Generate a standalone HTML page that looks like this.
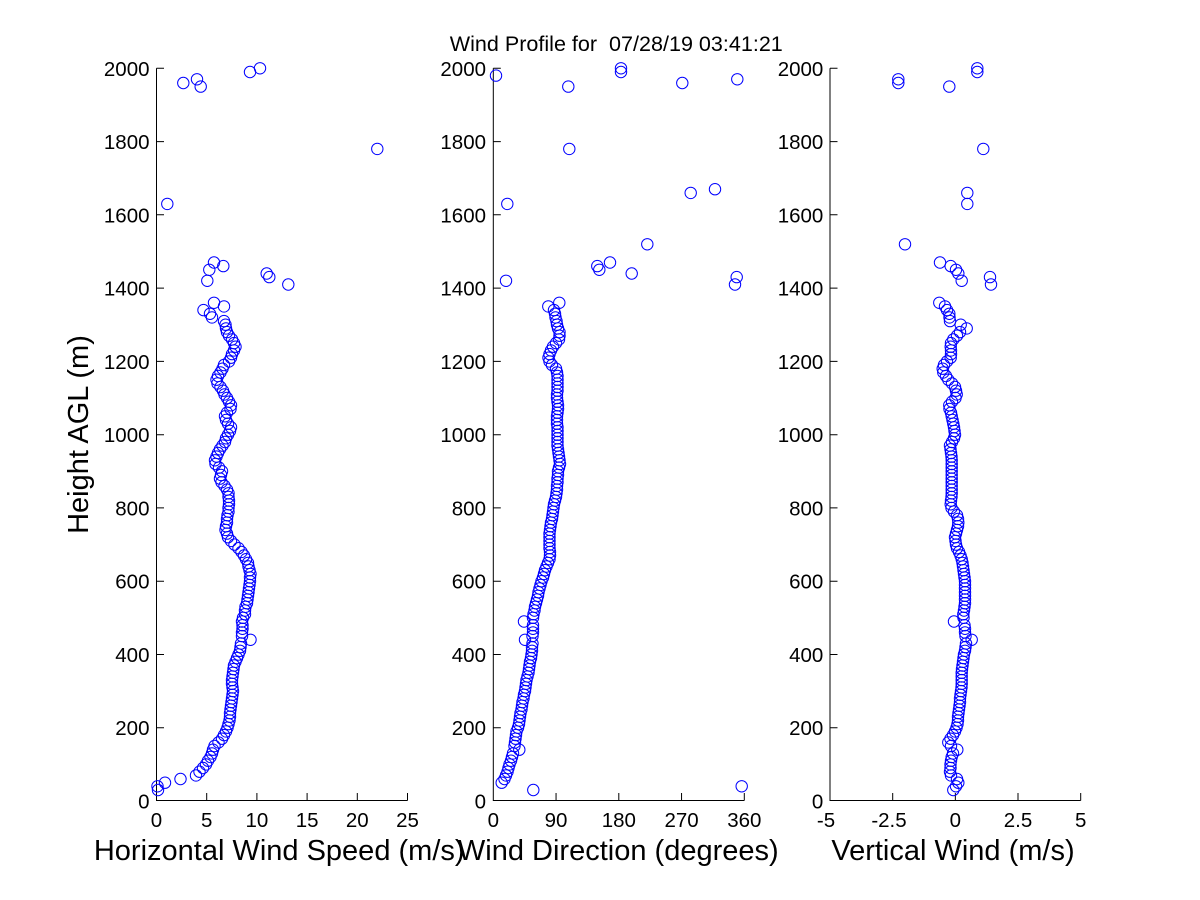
<!DOCTYPE html>
<html><head><meta charset="utf-8"><style>
html,body{margin:0;padding:0;background:#fff;}
svg{display:block;}
text{font-family:"Liberation Sans",Arial,sans-serif;fill:#000;}
.t{font-size:20.5px;}
.l{font-size:29px;}
</style></head><body>
<svg width="1200" height="900" viewBox="0 0 1200 900" xmlns="http://www.w3.org/2000/svg">
<defs>
<marker id="m" markerWidth="14" markerHeight="14" refX="7" refY="7" markerUnits="userSpaceOnUse" overflow="visible"><circle cx="7" cy="7" r="5.7" fill="none" stroke="#0000ff" stroke-width="1"/></marker>
</defs>
<rect width="1200" height="900" fill="#fff"/>
<text x="616.3" y="51" font-size="21" text-anchor="middle" textLength="333" lengthAdjust="spacingAndGlyphs" xml:space="preserve">Wind Profile for  07/28/19 03:41:21</text>

<!-- Panel 1 axes -->
<g stroke="#000" stroke-width="1" fill="none">
<path d="M156.5,68.3V800.5H407.5"/>
<path d="M206.7,800.5v-7.5M256.9,800.5v-7.5M307.1,800.5v-7.5M357.3,800.5v-7.5M407.5,800.5v-7.5"/>
<path d="M156.5,727.7h7.5M156.5,654.5h7.5M156.5,581.2h7.5M156.5,507.9h7.5M156.5,434.7h7.5M156.5,361.4h7.5M156.5,288.1h7.5M156.5,214.8h7.5M156.5,141.6h7.5M156.5,68.3h7.5"/>
<path d="M493.3,68.3V800.5H744.3"/>
<path d="M556.05,800.5v-7.5M618.8,800.5v-7.5M681.55,800.5v-7.5M744.3,800.5v-7.5"/>
<path d="M493.3,727.7h7.5M493.3,654.5h7.5M493.3,581.2h7.5M493.3,507.9h7.5M493.3,434.7h7.5M493.3,361.4h7.5M493.3,288.1h7.5M493.3,214.8h7.5M493.3,141.6h7.5M493.3,68.3h7.5"/>
<path d="M830,68.3V800.5H1080.7"/>
<path d="M892.7,800.5v-7.5M955.35,800.5v-7.5M1018,800.5v-7.5M1080.7,800.5v-7.5"/>
<path d="M830,727.7h7.5M830,654.5h7.5M830,581.2h7.5M830,507.9h7.5M830,434.7h7.5M830,361.4h7.5M830,288.1h7.5M830,214.8h7.5M830,141.6h7.5M830,68.3h7.5"/>
</g>

<!-- Y tick labels -->
<g class="t" text-anchor="end">
<text x="149.5" y="808.5">0</text><text x="149.5" y="735.2">200</text><text x="149.5" y="662">400</text><text x="149.5" y="588.7">600</text><text x="149.5" y="515.4">800</text><text x="149.5" y="442.2">1000</text><text x="149.5" y="368.9">1200</text><text x="149.5" y="295.6">1400</text><text x="149.5" y="222.3">1600</text><text x="149.5" y="149.1">1800</text><text x="149.5" y="75.8">2000</text>
<text x="486" y="808.5">0</text><text x="486" y="735.2">200</text><text x="486" y="662">400</text><text x="486" y="588.7">600</text><text x="486" y="515.4">800</text><text x="486" y="442.2">1000</text><text x="486" y="368.9">1200</text><text x="486" y="295.6">1400</text><text x="486" y="222.3">1600</text><text x="486" y="149.1">1800</text><text x="486" y="75.8">2000</text>
<text x="823.3" y="808.5">0</text><text x="823.3" y="735.2">200</text><text x="823.3" y="662">400</text><text x="823.3" y="588.7">600</text><text x="823.3" y="515.4">800</text><text x="823.3" y="442.2">1000</text><text x="823.3" y="368.9">1200</text><text x="823.3" y="295.6">1400</text><text x="823.3" y="222.3">1600</text><text x="823.3" y="149.1">1800</text><text x="823.3" y="75.8">2000</text>
</g>

<!-- X tick labels -->
<g class="t" text-anchor="middle">
<text x="156.5" y="827">0</text><text x="206.7" y="827">5</text><text x="256.9" y="827">10</text><text x="307.1" y="827">15</text><text x="357.3" y="827">20</text><text x="407.5" y="827">25</text>
<text x="493.3" y="827">0</text><text x="556.05" y="827">90</text><text x="618.8" y="827">180</text><text x="681.55" y="827">270</text><text x="744.3" y="827">360</text>
<text x="826" y="827">-5</text><text x="889" y="827">-2.5</text><text x="955.35" y="827">0</text><text x="1018" y="827">2.5</text><text x="1080.7" y="827">5</text>
</g>

<!-- Axis labels -->
<g class="l" text-anchor="middle">
<text x="279.2" y="860">Horizontal Wind Speed (m/s)</text>
<text x="618.3" y="860">Wind Direction (degrees)</text>
<text x="953" y="860">Vertical Wind (m/s)</text>
<text transform="translate(88,434.5) rotate(-90)" x="0" y="0">Height AGL (m)</text>
</g>

<!-- Panel 1 data -->
<g fill="none" stroke="none" marker-start="url(#m)" marker-mid="url(#m)" marker-end="url(#m)">
<polyline points="158,790.0 157.5,786.3 165,782.7 180.5,779.0 196,775.4 199.5,771.7 203,768.0 206,764.4 208,760.7 210.5,757.0 212,753.4 213,749.7 214.5,746.0 218.5,742.4 222,738.7 224,735.1 226,731.4 227.5,727.7 228.5,724.1 229.5,720.4 230,716.7 230,713.1 230.5,709.4 231,705.7 231.5,702.1 232,698.4 232.5,694.8 233,691.1 232.5,687.4 232,683.8 232,680.1 232.5,676.4 233,672.8 233.5,669.1 234,665.5 235.5,661.8 237,658.1 238.5,654.5 240,650.8 240.5,647.1 241,643.5 250.5,639.8 242,636.1 242,632.5 242.5,628.8 242.5,625.2 242,621.5 243,617.8 245,614.2 245,610.5 245.5,606.8 247,603.2 247.5,599.5 248,595.8 248.5,592.2 249,588.5 249.5,584.9 250,581.2 250,577.5 250.5,573.9 249.5,570.2 248.5,566.5 248,562.9 246,559.2 244,555.5 241.5,551.9 238.5,548.2 234.5,544.6 231,540.9 228,537.2 227,533.6 225.5,529.9 226,526.2 227,522.6 227,518.9 227.5,515.2 228.5,511.6 228.5,507.9 229,504.3 229,500.6 228.5,496.9 228.5,493.3 227,489.6 224.5,485.9 221.5,482.3 220,478.6 221,474.9 222,471.3 219,467.6 215.5,464.0 215,460.3 216.5,456.6 218,453.0 220,449.3 222.5,445.6 225,442.0 226,438.3 228,434.7 230,431.0 231,427.3 228,423.7 226,420.0 225,416.3 227,412.7 230.5,409.0 231,405.3 229,401.7 227,398.0 224.5,394.4 223,390.7 220.5,387.0 217.5,383.4 216.5,379.7 218,376.0 220.5,372.4 222.5,368.7 224,365.0 229,361.4 231,357.7 232,354.1 234,350.4 235.5,346.7 234,343.1 232,339.4 229,335.7 227,332.1 226,328.4 225.5,324.7 224,321.1 212,317.4 210,313.8 203.5,310.1 224,306.4 214,302.8"/>
<polyline points="260,68.3 250,72.0 197,79.3 183.3,83.0 200.7,86.6 377.3,148.9 167.3,203.9 214,262.5 223.3,266.1 209.3,269.8 266.7,273.5 269.3,277.1 207.3,280.8 288.3,284.5"/>

<!-- Panel 2 data -->
<polyline points="533.3,790.0 741.7,786.3 501.7,782.7 504.5,779.0 506,775.4 507.5,771.7 508.5,768.0 509.5,764.4 511,760.7 512,757.0 513,753.4 519.3,749.7 514.5,746.0 515,742.4 515.5,738.7 516,735.1 516.5,731.4 518,727.7 519,724.1 519.5,720.4 520,716.7 520.5,713.1 521.5,709.4 522,705.7 522.5,702.1 523.5,698.4 524,694.8 525,691.1 525.5,687.4 526,683.8 526.5,680.1 527.5,676.4 528.5,672.8 529,669.1 529.5,665.5 530,661.8 531,658.1 531.5,654.5 532,650.8 532,647.1 532.5,643.5 525,639.8 532.5,636.1 533,632.5 533,628.8 533,625.2 524,621.5 533,617.8 533.5,614.2 534.5,610.5 535,606.8 536,603.2 537,599.5 538,595.8 538.5,592.2 539.5,588.5 540.5,584.9 541.5,581.2 543,577.5 544,573.9 545,570.2 546.5,566.5 548,562.9 549.5,559.2 550,555.5 550,551.9 549.5,548.2 549.5,544.6 549.5,540.9 549.5,537.2 549.5,533.6 550,529.9 550.5,526.2 551,522.6 552,518.9 552.5,515.2 553,511.6 553.5,507.9 554,504.3 555,500.6 556,496.9 556.5,493.3 557,489.6 557,485.9 557.5,482.3 557.5,478.6 558,474.9 558,471.3 559,467.6 560,464.0 559.5,460.3 559,456.6 558.5,453.0 558,449.3 557.5,445.6 557.5,442.0 557.5,438.3 557.5,434.7 557.5,431.0 557.5,427.3 557,423.7 557,420.0 557,416.3 557.5,412.7 558,409.0 558,405.3 557.5,401.7 557,398.0 557,394.4 557.5,390.7 557.5,387.0 557.5,383.4 557.5,379.7 557.5,376.0 557,372.4 556,368.7 552,365.0 549.5,361.4 548.5,357.7 549.5,354.1 551,350.4 553,346.7 556,343.1 559,339.4 559.5,335.7 559.5,332.1 558,328.4 557,324.7 556.5,321.1 555.5,317.4 555,313.8 554,310.1 548.3,306.4 559.3,302.8"/>
<polyline points="621,68.3 621,72.0 496,75.6 737.3,79.3 682.3,83.0 568.3,86.6 569.3,148.9 715,189.2 690.7,192.9 507.3,203.9 647.3,244.3 610,262.5 597.3,266.1 599.3,269.8 631.7,273.5 736.7,277.1 506,280.8 735,284.5"/>

<!-- Panel 3 data -->
<polyline points="953.3,790.0 956,786.3 958.3,782.7 957,779.0 951,775.4 950,771.7 950.5,768.0 950.5,764.4 951,760.7 951.7,757.0 953,753.4 957.3,749.7 951,746.0 948.3,742.4 950.5,738.7 953,735.1 955,731.4 956.5,727.7 957.5,724.1 958,720.4 958,716.7 958.5,713.1 959,709.4 959.5,705.7 960,702.1 960,698.4 960.5,694.8 961,691.1 961.5,687.4 961.7,683.8 961.7,680.1 961.7,676.4 961.7,672.8 962,669.1 962.5,665.5 963,661.8 963.5,658.1 964,654.5 965,650.8 965.5,647.1 966,643.5 971.7,639.8 965.5,636.1 965,632.5 965,628.8 964.5,625.2 954,621.5 963.5,617.8 963.3,614.2 964,610.5 964.5,606.8 965,603.2 965,599.5 965,595.8 965,592.2 965,588.5 965,584.9 965,581.2 964.5,577.5 964,573.9 963.5,570.2 963,566.5 962.5,562.9 961.7,559.2 960.5,555.5 959,551.9 957,548.2 956,544.6 955.5,540.9 955,537.2 956,533.6 957,529.9 958,526.2 958.3,522.6 958,518.9 957,515.2 954,511.6 951.5,507.9 950.7,504.3 951,500.6 951.5,496.9 951.7,493.3 951.7,489.6 951.7,485.9 951.7,482.3 951.7,478.6 951.7,474.9 951.7,471.3 951.7,467.6 951.7,464.0 951.7,460.3 951.5,456.6 951,453.0 950.5,449.3 950,445.6 952,442.0 954,438.3 955,434.7 954.5,431.0 954,427.3 953.3,423.7 952.5,420.0 951.7,416.3 951,412.7 949.5,409.0 949.3,405.3 952,401.7 955.5,398.0 956.7,394.4 956,390.7 955,387.0 952,383.4 948.3,379.7 946,376.0 943.3,372.4 942.7,368.7 944,365.0 947,361.4 950.7,357.7 951,354.1 951,350.4 950.7,346.7 951,343.1 953.3,339.4 957,335.7 960,332.1 966.7,328.4 960.7,324.7 950,321.1 949.5,317.4 949.3,313.8 947,310.1 945,306.4 939.3,302.8"/>
<polyline points="977.3,68.3 977.3,72.0 898.3,79.3 898.3,83.0 949.3,86.6 983.3,148.9 967.3,192.9 967.3,203.9 905,244.3 940,262.5 950.7,266.1 956,269.8 958.3,273.5 990,277.1 961.7,280.8 991,284.5"/>
</g>
</svg>
</body></html>
